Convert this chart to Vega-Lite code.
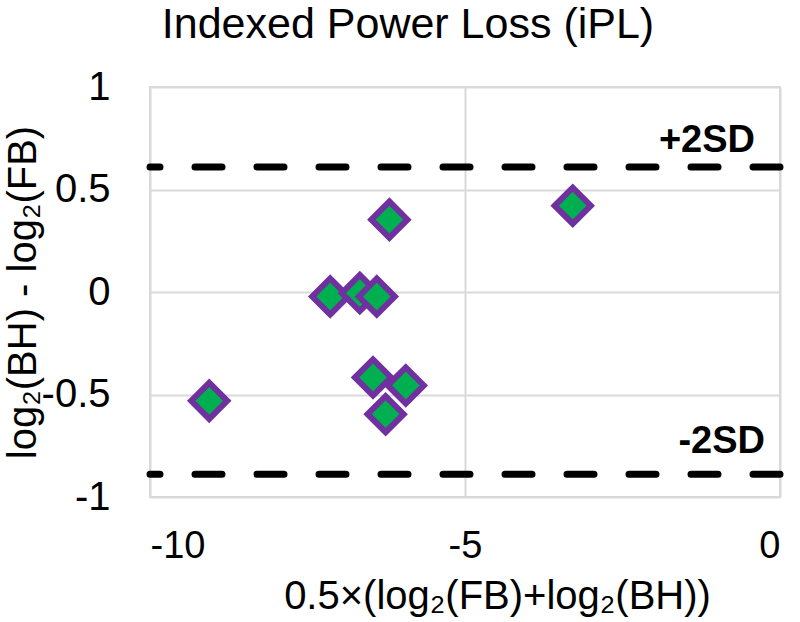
{
  "$schema": "https://vega.github.io/schema/vega-lite/v6.json",
  "width": 630,
  "height": 410,
  "autosize": "none",
  "padding": {"left": 150, "top": 87, "right": 20, "bottom": 125},
  "background": "white",
  "config": {
    "font": "Liberation Sans",
    "view": {"stroke": "#d9d9d9", "strokeWidth": 2}
  },
  "title": {
    "text": "Indexed Power Loss (iPL)",
    "fontSize": 43,
    "fontWeight": "normal",
    "color": "black",
    "anchor": "middle",
    "frame": "group",
    "baseline": "alphabetic",
    "dx": -57,
    "offset": -14
  },
  "datasets": {
    "pts": [
      {"mean": -9.06, "diff": -0.531},
      {"mean": -7.14, "diff": -0.022},
      {"mean": -6.67, "diff": -0.005},
      {"mean": -6.40, "diff": -0.022},
      {"mean": -6.20, "diff": 0.353},
      {"mean": -6.46, "diff": -0.417},
      {"mean": -5.94, "diff": -0.456},
      {"mean": -6.26, "diff": -0.596},
      {"mean": -3.29, "diff": 0.421}
    ],
    "sd": [
      {"label": "+2SD", "value": 0.61},
      {"label": "-2SD", "value": -0.889}
    ]
  },
  "layer": [
    {
      "data": {"name": "pts"},
      "mark": {"type": "point", "shape": "diamond", "filled": true, "size": 1300, "fill": "#00B050", "stroke": "#7030A0", "strokeWidth": 6, "opacity": 1},
      "encoding": {
        "x": {
          "field": "mean", "type": "quantitative",
          "scale": {"domain": [-10, 0], "nice": false, "zero": false},
          "axis": {
            "title": "0.5×(log₂(FB)+log₂(BH))",
            "values": [-10, -5, 0],
            "labelExpr": "'' + datum.value",
            "domain": false, "ticks": false, "tickSize": 0,
            "labelPadding": 30, "labelFontSize": 38, "labelColor": "black",
            "grid": true, "gridColor": "#d9d9d9", "gridWidth": 2,
            "titleFontSize": 40, "titleFontWeight": "normal", "titleColor": "black",
            "titleX": 347, "titleY": 111, "titleBaseline": "alphabetic", "titleAlign": "center"
          }
        },
        "y": {
          "field": "diff", "type": "quantitative",
          "scale": {"domain": [-1, 1], "nice": false, "zero": false},
          "axis": {
            "title": "log₂(BH) - log₂(FB)",
            "values": [-1, -0.5, 0, 0.5, 1],
            "labelExpr": "'' + datum.value",
            "domain": false, "ticks": false, "tickSize": 0,
            "labelPadding": 40, "labelFontSize": 40, "labelColor": "black",
            "grid": true, "gridColor": "#d9d9d9", "gridWidth": 2,
            "titleFontSize": 40, "titleFontWeight": "normal", "titleColor": "black",
            "titleAngle": -90, "titleX": -115, "titleY": 205, "titleBaseline": "alphabetic", "titleAlign": "center"
          }
        }
      }
    },
    {
      "data": {"name": "sd"},
      "mark": {"type": "rule", "color": "black", "strokeWidth": 7, "strokeDash": [27, 35], "strokeCap": "round"},
      "encoding": {
        "y": {"field": "value", "type": "quantitative"}
      }
    },
    {
      "data": {"name": "sd"},
      "transform": [{"filter": "datum.label == '+2SD'"}],
      "mark": {"type": "text", "align": "right", "baseline": "alphabetic", "fontSize": 38, "fontWeight": "bold", "color": "black", "dx": -25, "dy": -15},
      "encoding": {
        "x": {"datum": 0, "type": "quantitative"},
        "y": {"field": "value", "type": "quantitative"},
        "text": {"field": "label"}
      }
    },
    {
      "data": {"name": "sd"},
      "transform": [{"filter": "datum.label == '-2SD'"}],
      "mark": {"type": "text", "align": "right", "baseline": "alphabetic", "fontSize": 38, "fontWeight": "bold", "color": "black", "dx": -15, "dy": -21},
      "encoding": {
        "x": {"datum": 0, "type": "quantitative"},
        "y": {"field": "value", "type": "quantitative"},
        "text": {"field": "label"}
      }
    }
  ]
}
